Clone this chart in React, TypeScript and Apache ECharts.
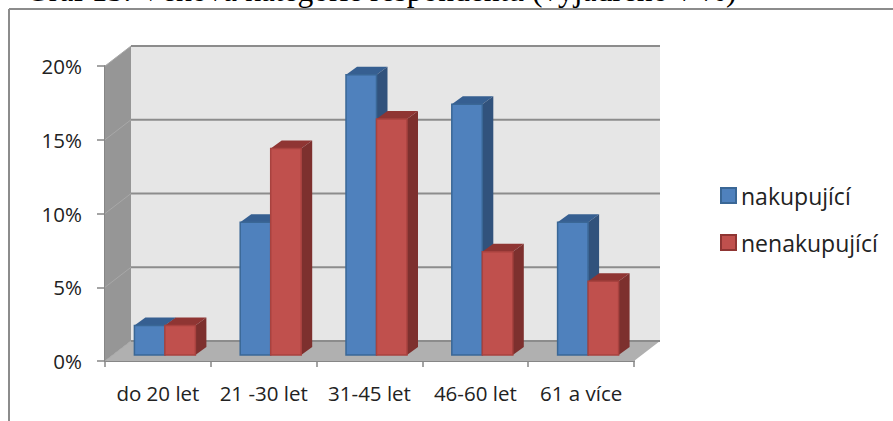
import React, { useEffect, useRef } from "react";
import * as echarts from "echarts";

const categories = ["do 20 let", "21 -30 let", "31-45 let", "46-60 let", "61 a více"];
const nakupujici = [2, 9, 19, 17, 9];
const nenakupujici = [2, 14, 16, 7, 5];
const yTicks = [0, 5, 10, 15, 20];
const titleText = "Graf 15: Věková kategorie respondentů (vyjádřeno v %)";

const DX = 26, DY = -20;
const BAR_W = 30.5, BAR_SHIFT = 7, BAR_LIFT = 6, BAR_DX = 11, BAR_DY = -8;

const labelFont = "'Open Sans', Lato, sans-serif";

function poly(points: number[][], fill: string, stroke?: string, lw?: number) {
  return {
    type: "polygon",
    shape: { points },
    style: { fill, stroke: stroke ?? "none", lineWidth: lw ?? 0 },
  };
}

function backdrop(params: any, api: any) {
  const v = api.value(0);
  const size = api.size([1, 0]);
  const [x0, y] = api.coord([0, v]);
  const left = x0 - size[0] / 2;
  const right = left + size[0] * categories.length;
  const children: any[] = [];
  if (params.dataIndex === 0) {
    const top = api.coord([0, yTicks[yTicks.length - 1]])[1];
    children.push(
      poly([[left + DX, top + DY], [right + DX, top + DY], [right + DX, y + DY], [left + DX, y + DY]], "#e6e6e6"),
      poly([[left, top], [left + DX, top + DY], [left + DX, y + DY], [left, y]], "#969696"),
      poly([[left, y], [left + DX, y + DY], [right + DX, y + DY], [right, y]], "#b0b0b0")
    );
  }
  children.push({
    type: "line",
    shape: { x1: left + DX, y1: y + DY, x2: right + DX, y2: y + DY },
    style: { stroke: "#8c8c8c", lineWidth: 2 },
  });
  children.push({
    type: "line",
    shape: { x1: left, y1: y, x2: left + DX, y2: y + DY },
    style: { stroke: "#a8a8a8", lineWidth: 1 },
  });
  return { type: "group", children };
}

function barRenderer(side: -1 | 1, front: string, edge: string, topC: string, sideC: string) {
  return (_params: any, api: any) => {
    const cat = api.value(0);
    const [cx, yTop0] = api.coord([cat, api.value(1)]);
    const yBase0 = api.coord([cat, 0])[1];
    const yTop = yTop0 - BAR_LIFT;
    const yBase = yBase0 - BAR_LIFT;
    const c = cx + BAR_SHIFT;
    const x1 = side < 0 ? c - BAR_W : c;
    const x2 = x1 + BAR_W;
    return {
      type: "group",
      children: [
        poly([[x1, yTop], [x1 + BAR_DX, yTop + BAR_DY], [x2 + BAR_DX, yTop + BAR_DY], [x2, yTop]], topC),
        poly([[x2, yTop], [x2 + BAR_DX, yTop + BAR_DY], [x2 + BAR_DX, yBase + BAR_DY], [x2, yBase]], sideC),
        {
          type: "rect",
          shape: { x: x1, y: yTop, width: BAR_W, height: yBase - yTop },
          style: { fill: front, stroke: edge, lineWidth: 1.5 },
        },
      ],
    };
  };
}

export default function App() {
  const ref = useRef<HTMLDivElement>(null);
  useEffect(() => {
    document.body.style.margin = "0";
    const chart = echarts.init(ref.current!, null, { renderer: "svg" });
    chart.setOption({
      animation: false,
      backgroundColor: "#ffffff",
      title: {
        text: titleText,
        left: 21,
        top: -31,
        textStyle: { fontFamily: "'Liberation Serif', serif", fontSize: 31.5, fontWeight: "normal", color: "#000" },
      },
      graphic: [
        { type: "line", z: 0, shape: { x1: 9, y1: 9, x2: 893, y2: 9 }, style: { stroke: "#8c8c8c", lineWidth: 2 } },
        { type: "line", z: 0, shape: { x1: 9, y1: 9, x2: 9, y2: 421 }, style: { stroke: "#8c8c8c", lineWidth: 2 } },
      ],
      legend: {
        orient: "vertical",
        left: 715,
        top: 179,
        itemWidth: 15,
        itemHeight: 15,
        itemGap: 24,
        itemStyle: { borderWidth: 2 },
        icon: "rect",
        textStyle: { fontFamily: labelFont, fontSize: 23, color: "#222" },
        data: ["nakupující", "nenakupující"],
      },
      grid: { left: 105, right: 259, top: 66, bottom: 60, containLabel: false },
      xAxis: {
        type: "category",
        data: categories,
        axisLine: { lineStyle: { color: "#868686", width: 2 } },
        axisTick: { show: true, length: 6, alignWithLabel: false, lineStyle: { color: "#868686", width: 1.5 } },
        axisLabel: { interval: 0, fontFamily: labelFont, fontSize: 20.5, color: "#222", margin: 21 },
      },
      yAxis: {
        type: "value",
        min: 0,
        max: 20,
        interval: 5,
        splitLine: { show: false },
        axisLine: { show: true, lineStyle: { color: "#868686", width: 2 } },
        axisTick: { show: true, length: 8, lineStyle: { color: "#868686", width: 1.5 } },
        axisLabel: { formatter: "{value}%", fontFamily: labelFont, fontSize: 20.5, color: "#222", margin: 23 },
      },
      series: [
        {
          type: "custom",
          name: "stěny",
          silent: true,
          z: 1,
          clip: false,
          renderItem: backdrop,
          encode: { y: 0 },
          data: yTicks.map((t) => [t]),
        },
        {
          type: "custom",
          name: "nakupující",
          z: 3,
          clip: false,
          itemStyle: { color: "#4f81bd", borderColor: "#3a6796", borderWidth: 2 },
          renderItem: barRenderer(-1, "#4f81bd", "#3a6796", "#365f91", "#31527c"),
          encode: { x: 0, y: 1 },
          data: nakupujici.map((v, i) => [i, v]),
        },
        {
          type: "custom",
          name: "nenakupující",
          z: 4,
          clip: false,
          itemStyle: { color: "#c0504d", borderColor: "#8f3533", borderWidth: 2 },
          renderItem: barRenderer(1, "#c0504d", "#a8423f", "#8f3533", "#7d302e"),
          encode: { x: 0, y: 1 },
          data: nenakupujici.map((v, i) => [i, v]),
        },
      ],
    });
    return () => chart.dispose();
  }, []);
  return <div ref={ref} style={{ width: 893, height: 421 }} />;
}
